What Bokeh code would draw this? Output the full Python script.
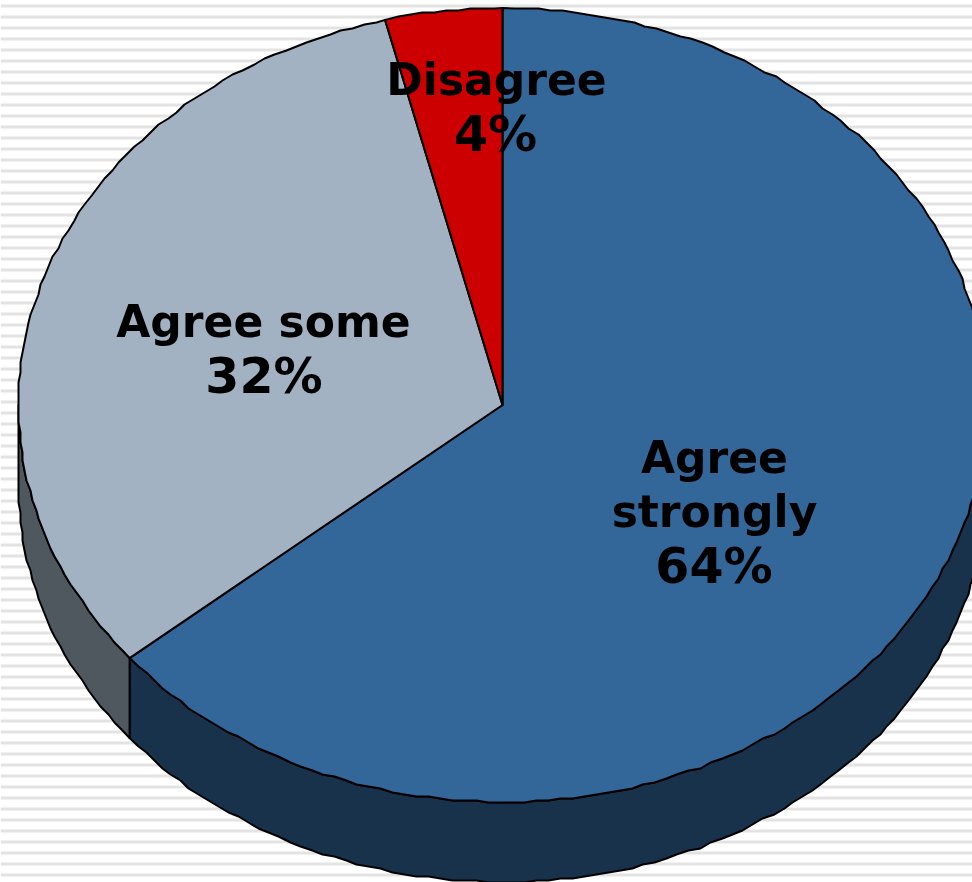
import numpy as np
from bokeh.plotting import figure
from bokeh.models import Range1d
from bokeh.core.properties import value
from bokeh.embed import file_html
from bokeh.resources import INLINE

categories = ["Agree strongly", "Agree some", "Disagree"]
shares = [64.0, 32.1, 3.9]
percent_labels = ["64%", "32%", "4%"]
name_lines = ["Agree", "strongly", "Agree some", "Disagree"]
top_colors = ["#336699", "#a2b2c2", "#cc0000"]
side_colors = ["#19324c", "#50585f", "#660000"]

W, H = 972, 882
CX, CY, RX, RY, DEPTH = 502, 404.5, 484, 397, 80
STEP = 11      # spacing of outline vertices, px
SNAP = 2       # the source outline sits on a coarse grid

p = figure(width=W, height=H, output_backend="svg", toolbar_location=None,
           x_range=Range1d(0, W), y_range=Range1d(H, 0),
           min_border=0, outline_line_color=None, background_fill_color="white")
p.axis.visible = False
p.grid.visible = False
p.styles = {"position": "fixed", "left": "0px", "top": "0px"}

tops = np.arange(4, H, 11)
p.quad(left=0, right=W, top=tops, bottom=tops + 3, fill_color="#e3e3e3", line_color=None)


def pt(t):
    return CX + RX * np.sin(t), CY - RY * np.cos(t)


grid_t = np.arange(0, 2 * np.pi, STEP / ((RX + RY) / 2))


def arc(a, b):
    inner = grid_t[(grid_t > a + 0.01) & (grid_t < b - 0.01)]
    x, y = pt(inner)
    x, y = np.round(x / SNAP) * SNAP, np.round(y / SNAP) * SNAP
    xa, ya = pt(a)
    xb, yb = pt(b)
    return np.concatenate([[xa], x, [xb]]), np.concatenate([[ya], y, [yb]])


edges = np.concatenate([[0], np.cumsum(shares)]) / sum(shares) * 2 * np.pi
LINE = 2

for i in range(len(shares)):
    a, b = max(edges[i], np.pi / 2), min(edges[i + 1], 3 * np.pi / 2)
    if a >= b:
        continue
    x, y = arc(a, b)
    xs = np.concatenate([x, x[::-1]])
    ys = np.concatenate([y, y[::-1] + DEPTH])
    p.patch(xs, ys, fill_color=side_colors[i], line_color="black", line_width=LINE, line_join="round")

for i in range(len(shares)):
    x, y = arc(edges[i], edges[i + 1])
    p.patch(np.concatenate([[CX], x]), np.concatenate([[CY], y]),
            fill_color=top_colors[i], line_color="black", line_width=LINE, line_join="round")

font = dict(text_align="center", text_baseline="alphabetic", text_font=value("DejaVu Sans"),
            text_font_style="bold", text_color="black")
p.text(x=[714, 714, 263, 496], y=[457, 511, 321, 79], text=name_lines, text_font_size="44px", **font)
p.text(x=[713.5, 263.5, 495], y=[566, 376, 134], text=percent_labels, text_font_size="49px", **font)

open("out.html", "w").write(file_html(p, INLINE))
